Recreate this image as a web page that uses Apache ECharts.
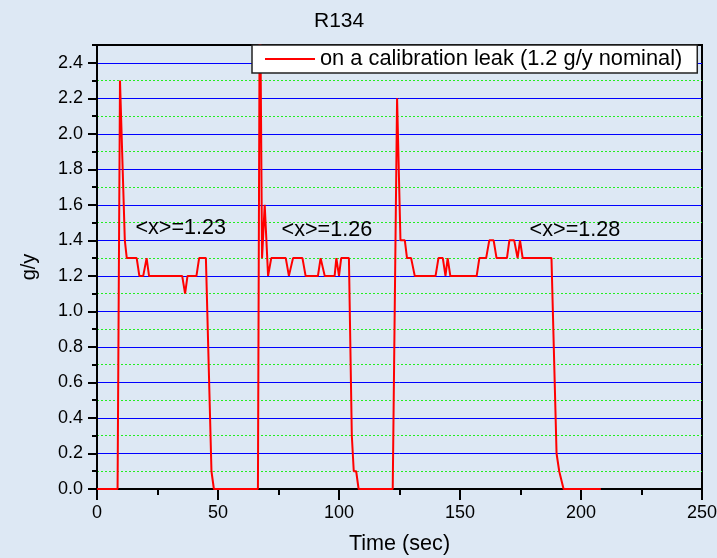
<!DOCTYPE html>
<html>
<head>
<meta charset="utf-8">
<script src="https://cdn.jsdelivr.net/npm/echarts@6/dist/echarts.min.js"></script>
<style>
  html, body { margin: 0; padding: 0; background: #dde8f4; }
  #chart { width: 717px; height: 558px; }
</style>
</head>
<body>
<div id="chart"></div>
<script>
// ---- data ----
const times = [0, 8.5, 9.5, 11.5, 12.3, 16.4, 17.5, 19.1, 20.5, 21.5, 35.2, 36.4, 37.4, 41.1, 42.2, 45.0, 47.3, 48.3,
  66.5, 67.3, 68.2, 69.3, 70.7, 72.0, 78.0, 79.3, 81.0, 84.9, 86.2, 91.3, 92.4, 94.1, 98.2, 98.9, 100.0, 100.9, 104.1, 105.3, 106.1, 107.1, 108.1,
  122.2, 124.0, 125.4, 127.2, 128.1, 129.8, 131.3, 139.9, 141.1, 142.9, 144.0, 144.9, 146.0, 156.9, 158.0, 160.8, 162.1, 163.9, 165.1,
  169.4, 170.4, 172.4, 173.8, 174.8, 175.9, 187.8, 189.9, 191.0, 191.7, 192.8, 208.2];
const values = [0, 0, 2.3, 1.4, 1.3, 1.3, 1.2, 1.2, 1.3, 1.2, 1.2, 1.1, 1.2, 1.2, 1.3, 1.3, 0.1, 0,
  0, 3.0, 1.3, 1.6, 1.2, 1.3, 1.3, 1.2, 1.3, 1.3, 1.2, 1.2, 1.3, 1.2, 1.2, 1.3, 1.2, 1.3, 1.3, 0.3, 0.1, 0.1, 0,
  0, 2.2, 1.4, 1.4, 1.3, 1.3, 1.2, 1.2, 1.3, 1.3, 1.2, 1.3, 1.2, 1.2, 1.3, 1.3, 1.4, 1.4, 1.3,
  1.3, 1.4, 1.4, 1.3, 1.4, 1.3, 1.3, 0.2, 0.1, 0.1, 0, 0];
const seriesName = 'on a calibration leak (1.2 g/y nominal)';
const annotationTexts = ['<x>=1.23', '<x>=1.26', '<x>=1.28'];
const annotationX = [34.6, 95.0, 197.5];
const annotationY = [1.47, 1.46, 1.46];
const xTicks = [0, 50, 100, 150, 200, 250];

const FONT = 'Liberation Sans, Arial, sans-serif';
const chart = echarts.init(document.getElementById('chart'));

const points = times.map((t, i) => [t, values[i]]);
const marks = annotationTexts.map((s, i) => ({ coord: [annotationX[i], annotationY[i]], value: s }));

chart.setOption({
  backgroundColor: '#dde8f4',
  animation: false,
  title: {
    text: 'R134', left: 309, top: 6,
    textStyle: { fontFamily: FONT, fontSize: 21, fontWeight: 'normal', color: '#000' }
  },
  legend: {
    data: [seriesName],
    left: 252, top: 45,
    padding: [3, 15, 3, 12],
    itemWidth: 50, itemHeight: 14, itemGap: 0,
    backgroundColor: '#ffffff',
    borderColor: '#222', borderWidth: 1.5,
    itemStyle: { opacity: 0 },
    lineStyle: { color: '#ff0000', width: 2 },
    textStyle: { fontFamily: FONT, fontSize: 21.8, color: '#000' }
  },
  grid: {
    left: 97, right: 15, top: 45, bottom: 69,
    outerBoundsMode: 'none', containLabel: false,
    show: true, borderColor: '#000', borderWidth: 2, backgroundColor: 'transparent'
  },
  xAxis: {
    type: 'value', min: 0, max: 250, interval: 50,
    name: 'Time (sec)', nameLocation: 'middle', nameGap: 44,
    nameTextStyle: { fontFamily: FONT, fontSize: 21.6, color: '#000' },
    axisLine: { show: true, lineStyle: { color: '#000', width: 2 } },
    axisTick: { show: true, length: 11, inside: false, lineStyle: { color: '#000', width: 2 } },
    minorTick: { show: true, splitNumber: 2, length: 6, lineStyle: { color: '#000', width: 2 } },
    axisLabel: { fontFamily: FONT, fontSize: 18, color: '#000', margin: 15,
      formatter: v => xTicks.includes(v) ? String(v) : '' },
    splitLine: { show: false },
    minorSplitLine: { show: false }
  },
  yAxis: [
    {
      type: 'value', min: 0, max: 2.5, interval: 0.2, position: 'left',
      name: 'g/y', nameLocation: 'middle', nameGap: 58,
      nameTextStyle: { fontFamily: FONT, fontSize: 20, color: '#000' },
      axisLine: { show: true, lineStyle: { color: '#000', width: 2 } },
      axisTick: { show: true, length: 9, lineStyle: { color: '#000', width: 2 } },
      axisLabel: { fontFamily: FONT, fontSize: 18, color: '#000', margin: 14, showMaxLabel: false,
        formatter: v => (Math.abs(v - 2.5) < 1e-6 ? '' : v.toFixed(1)) },
      splitLine: { show: true, showMinLine: false, showMaxLine: false, lineStyle: { color: '#0000ff', width: 1, type: 'solid' } },
      minorSplitLine: { show: false }
    },
    {
      type: 'value', min: 0, max: 2.5, interval: 0.1, position: 'left', offset: 0,
      axisLine: { show: false },
      axisTick: { show: true, length: 5, lineStyle: { color: '#000', width: 2 } },
      axisLabel: { show: false },
      splitLine: { show: true, showMinLine: true, showMaxLine: false, lineStyle: { color: ['rgba(0,0,0,0)', '#22ee22'], width: 1, type: [2, 2] } },
      minorSplitLine: { show: false }
    }
  ],
  series: [
    {
      name: seriesName, type: 'line', data: points,
      xAxisIndex: 0, yAxisIndex: 0,
      symbol: 'none', clip: true,
      lineStyle: { color: '#ff0000', width: 2 },
      itemStyle: { color: '#ff0000' },
      z: 3,
      markPoint: {
        symbol: 'circle', symbolSize: 0, z: 4,
        label: { show: true, position: 'inside', formatter: p => p.value,
          fontFamily: FONT, fontSize: 21.6, color: '#000' },
        data: marks
      }
    }
  ]
});
</script>
</body>
</html>
